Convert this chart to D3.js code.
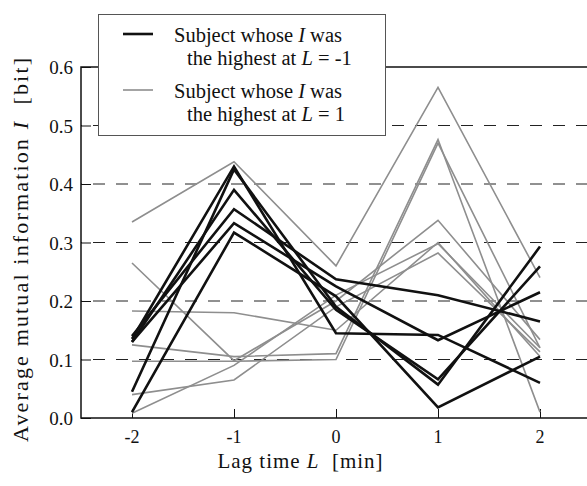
<!DOCTYPE html>
<html>
<head>
<meta charset="utf-8">
<script src="https://cdn.jsdelivr.net/npm/d3@7"></script>
<style>
  body { margin: 0; background: #fff; }
  svg text { font-family: "Liberation Serif", "Times New Roman", serif; fill: #111; }
</style>
</head>
<body>
<div id="chart"></div>
<script>
// lag times (x) and tick labels
var lags = [-2, -1, 0, 1, 2]
var yTicks = [0, 0.1, 0.2, 0.3, 0.4, 0.5, 0.6]

// subjects whose I was highest at L = -1 (black)
var blackA = [0.135, 0.43, 0.145, 0.142, 0.06]
var blackB = [0.045, 0.425, 0.19, 0.057, 0.293]
var blackC = [0.13, 0.39, 0.185, 0.066, 0.259]
var blackD = [0.14, 0.357, 0.237, 0.21, 0.165]
var blackE = [0.13, 0.333, 0.225, 0.133, 0.215]
var blackF = [0.01, 0.317, 0.208, 0.018, 0.105]

// subjects whose I was highest at L = 1 (gray)
var grayA = [0.335, 0.438, 0.26, 0.565, 0.24]
var grayB = [0.265, 0.098, 0.2, 0.338, 0.134]
var grayC = [0.183, 0.18, 0.15, 0.30, 0.105]
var grayD = [0.125, 0.105, 0.11, 0.476, 0.01]
var grayE = [0.097, 0.097, 0.10, 0.47, 0.12]
var grayF = [0.04, 0.065, 0.19, 0.282, 0.113]
var grayG = [0.008, 0.09, 0.21, 0.298, 0.12]

var blackSeries = [blackA, blackB, blackC, blackD, blackE, blackF]
var graySeries = [grayA, grayB, grayC, grayD, grayE, grayF, grayG]

width = 587
height = 486

var svg = d3.select('#chart').append('svg')
	.attr('width', width)
	.attr('height', height)

var x = d3.scaleLinear().domain([-2.5, 2.5]).range([81, 591])
var y = d3.scaleLinear().domain([0, 0.6]).range([418, 67])

// dashed grid
svg.selectAll('.grid').data(yTicks.filter(function(d){ return d > 0 && d < 0.6 }))
	.enter().append('line')
	.attr('x1', 81).attr('x2', width)
	.attr('y1', function(d){ return y(d) }).attr('y2', function(d){ return y(d) })
	.attr('stroke', '#222').attr('stroke-width', 1)
	.attr('stroke-dasharray', '12,11')
	.attr('stroke-dashoffset', -12)

// frame: left, bottom, top
svg.append('path')
	.attr('d', 'M' + width + ',' + y(0.6) + 'H' + x(-2.5) + 'V' + y(0) + 'H' + width)
	.attr('fill', 'none').attr('stroke', '#111').attr('stroke-width', 1.5)

// ticks
var yAxis = d3.axisRight(y).tickValues(yTicks).tickSize(10).tickFormat('')
svg.append('g').attr('transform', 'translate(81,0)').call(yAxis)
	.call(function(g){ g.select('.domain').remove(); g.selectAll('line').attr('stroke', '#111') })

var xAxis = d3.axisTop(x).tickValues(lags).tickSize(9).tickFormat('')
svg.append('g').attr('transform', 'translate(0,418)').call(xAxis)
	.call(function(g){ g.select('.domain').remove(); g.selectAll('line').attr('stroke', '#111') })

// tick labels
svg.selectAll('.ylab').data(yTicks).enter().append('text')
	.attr('x', 73).attr('y', function(d){ return y(d) + 7 })
	.attr('text-anchor', 'end').style('font-size', '19px')
	.text(function(d){ return d.toFixed(1) })

svg.selectAll('.xlab').data(lags).enter().append('text')
	.attr('x', function(d){ return x(d) }).attr('y', 443)
	.attr('text-anchor', 'middle').style('font-size', '18px')
	.text(function(d){ return d })

// axis titles
var xt = svg.append('text').attr('x', 300).attr('y', 468)
	.attr('text-anchor', 'middle').style('font-size', '21px')
	.attr('textLength', 165).attr('lengthAdjust', 'spacing')
xt.append('tspan').text('Lag time ')
xt.append('tspan').style('font-style', 'italic').text('L')
xt.append('tspan').text('\u00a0 [min]')

var yt = svg.append('text').attr('transform', 'translate(28,250) rotate(-90)')
	.attr('text-anchor', 'middle').style('font-size', '22px')
	.attr('textLength', 384).attr('lengthAdjust', 'spacing')
yt.append('tspan').text('Average mutual information ')
yt.append('tspan').style('font-style', 'italic').text('I')
yt.append('tspan').text('\u00a0 [bit]')

// lines
var line = d3.line()
	.x(function(d, i){ return x(lags[i]) })
	.y(function(d){ return y(d) })

svg.selectAll('.gray').data(graySeries).enter().append('path')
	.attr('d', line).attr('fill', 'none')
	.attr('stroke', '#8e8e8e').attr('stroke-width', 1.6)

svg.selectAll('.black').data(blackSeries).enter().append('path')
	.attr('d', line).attr('fill', 'none')
	.attr('stroke', '#111').attr('stroke-width', 2.6)

// legend
var lg = svg.append('g')
lg.append('rect').attr('x', 98.5).attr('y', 14.5).attr('width', 287).attr('height', 121)
	.attr('fill', '#fff').attr('stroke', '#555').attr('stroke-width', 1)
lg.append('line').attr('x1', 123).attr('x2', 153).attr('y1', 34).attr('y2', 34)
	.attr('stroke', '#111').attr('stroke-width', 2.6)
lg.append('line').attr('x1', 123).attr('x2', 153).attr('y1', 90).attr('y2', 90)
	.attr('stroke', '#8e8e8e').attr('stroke-width', 1.6)

function legendText(ty, lagLabel) {
	var t1 = lg.append('text').attr('x', 174).attr('y', ty).style('font-size', '20.5px')
	t1.append('tspan').text('Subject whose ')
	t1.append('tspan').style('font-style', 'italic').text('I')
	t1.append('tspan').text(' was')
	var t2 = lg.append('text').attr('x', 187).attr('y', ty + 23).style('font-size', '20.5px')
	t2.append('tspan').text('the highest at ')
	t2.append('tspan').style('font-style', 'italic').text('L')
	t2.append('tspan').text(' = ' + lagLabel)
}
legendText(42, '-1')
legendText(98, '1')
</script>
</body>
</html>
